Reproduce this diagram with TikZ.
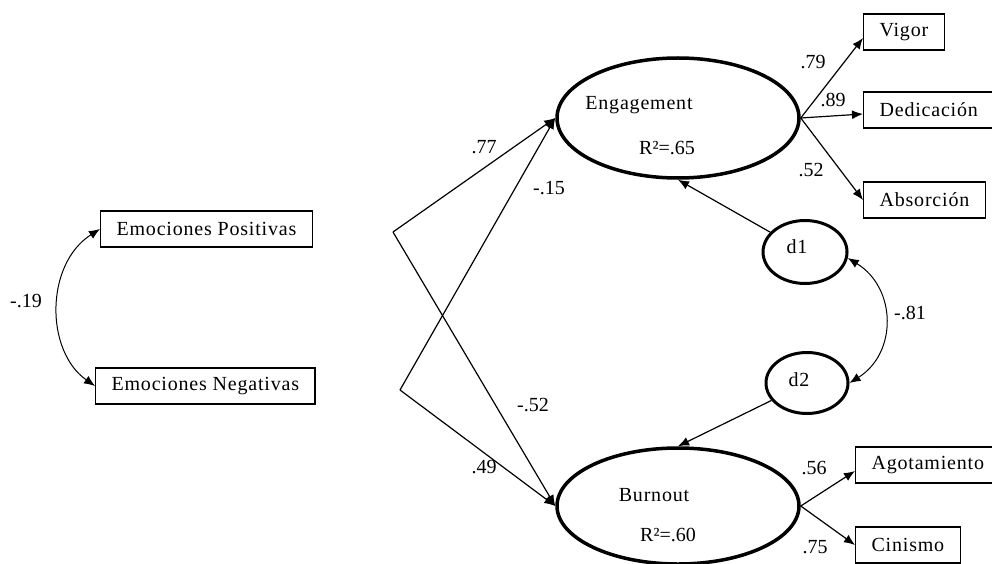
\documentclass[tikz,border=0pt]{standalone}
\usepackage{fontspec}
\setmainfont{Liberation Serif}
\usetikzlibrary{arrows.meta}
\usetikzlibrary{shapes.geometric}

\newcommand{\diagwords}{\fontsize{20}{24}\selectfont\addfontfeature{LetterSpace=4}}
\newcommand{\diagnums}{\fontsize{20}{24}\selectfont}

\begin{document}
\begin{tikzpicture}[x=1pt, y=-1pt,
    varbox/.style={draw, line width=1.2pt, inner xsep=16pt, inner ysep=0pt, minimum height=36pt, anchor=west, font=\diagwords},
    latent/.style={ellipse, draw, line width=3.5pt, inner sep=0pt},
    coef/.style={font=\diagnums, inner sep=0pt},
    effect/.style={line width=1.2pt, -{Latex[length=11pt, width=9pt]}},
    covar/.style={line width=1pt, {Latex[length=11pt, width=9pt]}-{Latex[length=11pt, width=9pt]}}]
      \useasboundingbox (0, 0) rectangle (992, 564);

      % observed predictors
      \node[varbox] (ep) at (100, 229) {Emociones Positivas};
      \node[varbox] (en) at (95, 386) {Emociones Negativas};
      \coordinate (ep-out) at (393, 232);
      \coordinate (en-out) at (400, 390);

      % latent variables
      \node[latent, minimum width=242pt, minimum height=120pt] (eng) at (678, 118) {};
      \node[font=\diagwords] (eng-name) at (639, 105) {Engagement};
      \node[font=\diagnums] (eng-r2) at (667, 148) {R²=.65};
      \node[latent, minimum width=242pt, minimum height=116pt] (burn) at (678, 506) {};
      \node[font=\diagwords] (burn-name) at (654, 495) {Burnout};
      \node[font=\diagnums] (burn-r2) at (668, 535) {R²=.60};

      % disturbances
      \node[latent, line width=3pt, minimum width=84pt, minimum height=63pt] (d1) at (805, 252) {};
      \node[font=\diagwords] (d1-name) at (797, 247) {d1};
      \node[latent, line width=3pt, minimum width=82pt, minimum height=61pt] (d2) at (807, 383) {};
      \node[font=\diagwords] (d2-name) at (799, 380) {d2};

      % indicators
      \node[varbox] (vigor) at (863, 32) {Vigor};
      \node[varbox] (dedic) at (863, 110) {Dedicación};
      \node[varbox] (absor) at (863, 200) {Absorción};
      \node[varbox] (agot) at (855, 465) {Agotamiento};
      \node[varbox] (cinis) at (855, 545) {Cinismo};

      % paths
      \draw[effect] (ep-out) -- (eng.west);
      \draw[effect] (ep-out) -- (burn.west);
      \draw[effect] (en-out) -- (eng.west);
      \draw[effect] (en-out) -- (burn.west);
      \draw[effect] (d1) -- (eng.south);
      \draw[effect] (d2) -- (burn.north);
      \draw[effect] (eng.east) -- ([yshift=-6pt]vigor.west);
      \draw[effect] (eng.east) -- ([yshift=-4pt]dedic.west);
      \draw[effect] (eng.east) -- (absor.west);
      \draw[effect] (burn.east) -- ([yshift=-6pt]agot.west);
      \draw[effect] (burn.east) -- (cinis.west);

      % covariances
      \draw[covar] (ep.west) .. controls +(-55, 35) and +(-50, -35) .. (en.west);
      \draw[covar] (d1.-8) .. controls +(49, 30) and +(48, -30) .. (d2.east);

      % coefficients
      \node[coef] (c-ep-eng) at (484, 147) {.77};
      \node[coef] (c-en-eng) at (549, 188) {-.15};
      \node[coef] (c-ep-burn) at (533, 405) {-.52};
      \node[coef] (c-en-burn) at (484, 467) {.49};
      \node[coef] (c-ep-en) at (26, 301) {-.19};
      \node[coef] (c-d1-d2) at (910, 313) {-.81};
      \node[coef] (c-vigor) at (813, 62) {.79};
      \node[coef] (c-dedic) at (833, 100) {.89};
      \node[coef] (c-absor) at (811, 170) {.52};
      \node[coef] (c-agot) at (814, 468) {.56};
      \node[coef] (c-cinis) at (815, 547) {.75};
    \end{tikzpicture}
\end{document}
